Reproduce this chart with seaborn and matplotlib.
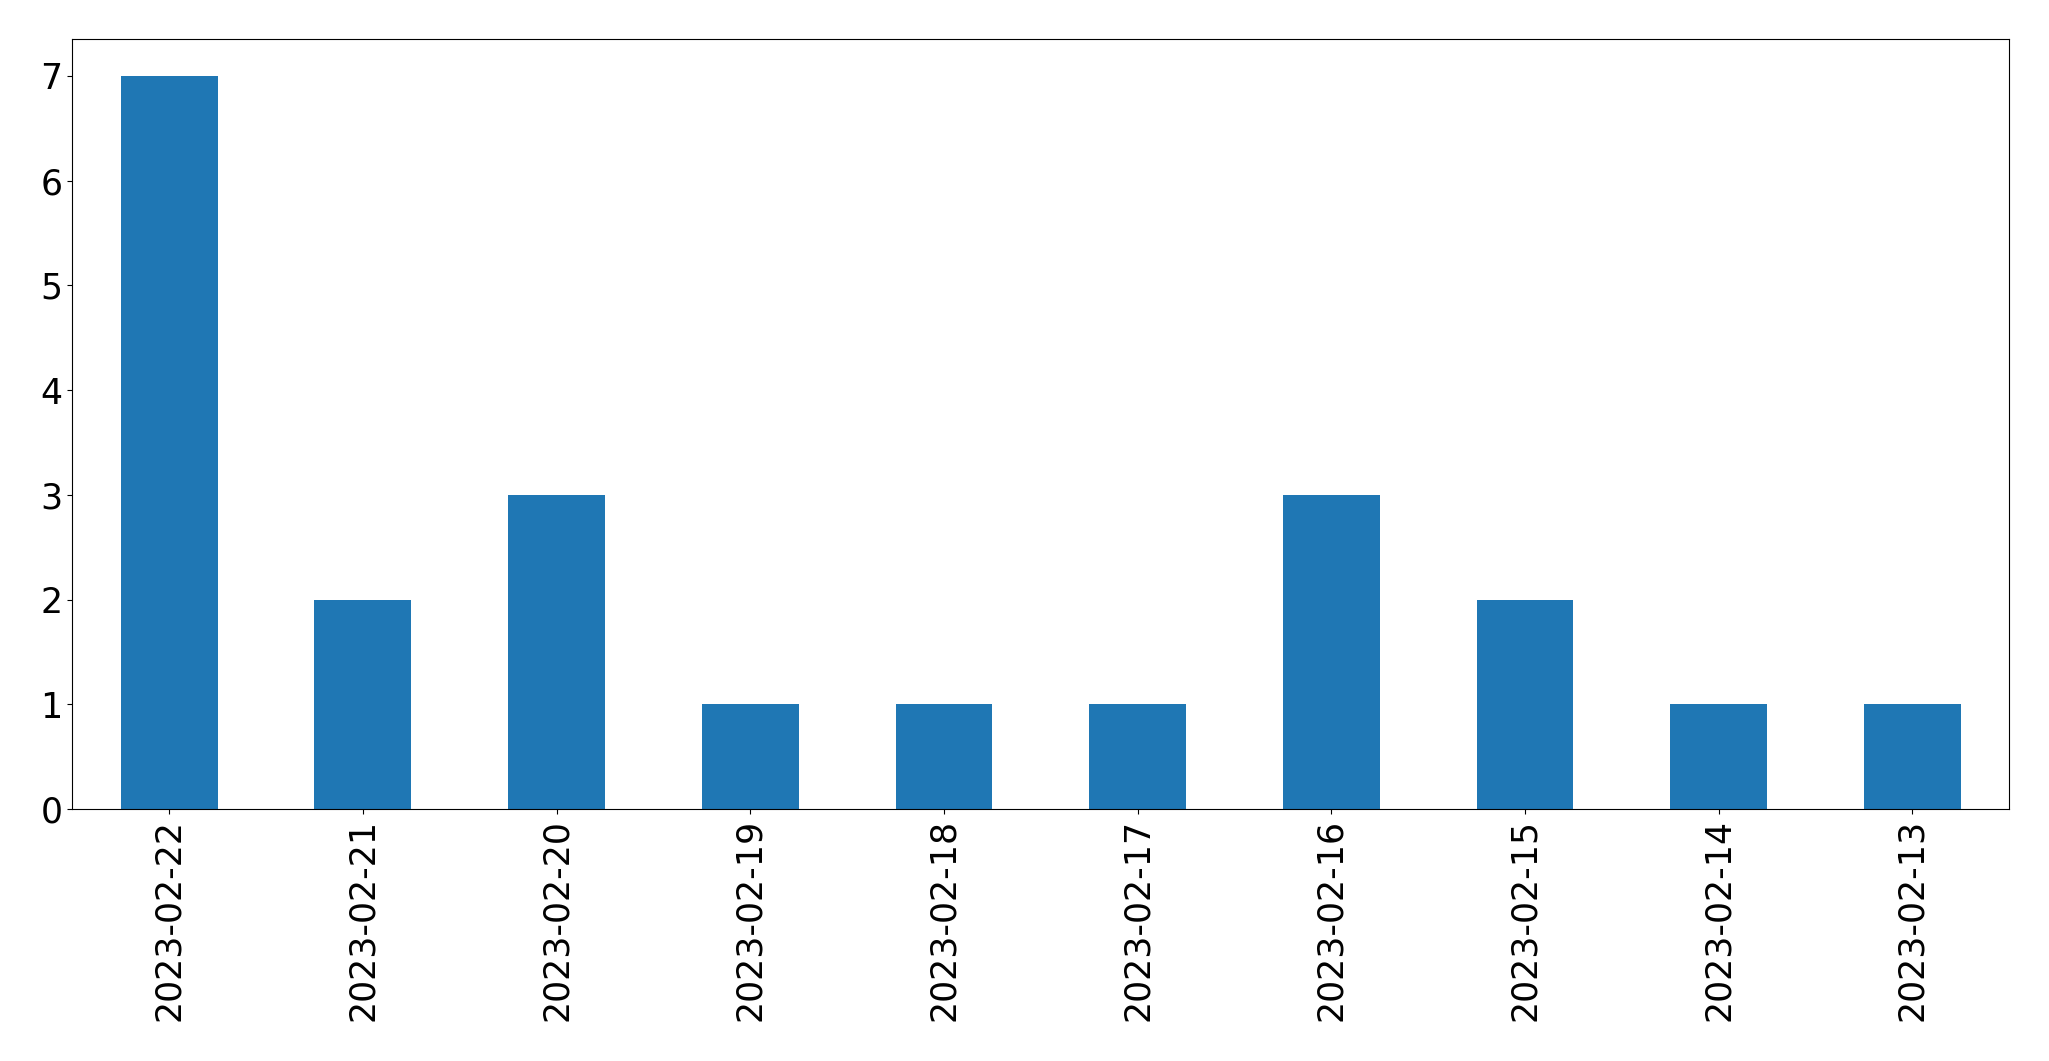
import pandas as pd
import matplotlib
matplotlib.use("Agg")
import matplotlib.pyplot as plt
import seaborn as sns

# data
dates = ['2023-02-22', '2023-02-21', '2023-02-20', '2023-02-19', '2023-02-18',
         '2023-02-17', '2023-02-16', '2023-02-15', '2023-02-14', '2023-02-13']
counts = [7, 2, 3, 1, 1, 1, 3, 2, 1, 1]

df = pd.DataFrame({'date': dates, 'count': counts})

fig = plt.figure(figsize=(20.49, 10.61), dpi=100)
ax = fig.add_axes([0.0353, 0.2375, 0.9453, 0.7255])

sns.barplot(data=df, x='date', y='count', order=dates, color='#1f77b4',
            saturation=1, width=0.5, ax=ax)

ax.set_xlim(-0.5, len(dates) - 0.5)
ax.set_ylim(0, 7.35)
ax.set_xlabel('')
ax.set_ylabel('')
ax.tick_params(axis='both', labelsize=25)
plt.setp(ax.get_xticklabels(), rotation=90)

fig.savefig('out.png', dpi=100)
